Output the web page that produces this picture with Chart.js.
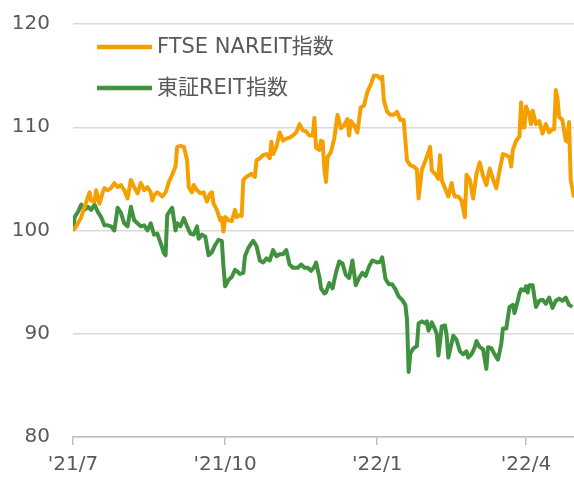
<!DOCTYPE html>
<html><head><meta charset="utf-8">
<script src="https://cdn.jsdelivr.net/npm/chart.js@4/dist/chart.umd.min.js"></script>
<style>html,body{margin:0;padding:0;background:#fff;}#wrap{width:574px;height:477px;}</style>
</head><body><div id="wrap"><canvas id="c" width="574" height="477"></canvas></div>
<script>
// x values are calendar days since 2021-07-01
const tickDays = [0, 92, 184, 274];
const tickLabels = ["'21/7", "'21/10", "'22/1", "'22/4"];
const yTicks = [80, 90, 100, 110, 120];
const seriesNames = ["FTSE NAREIT指数", "東証REIT指数"];

const ftseDays = [0,2,5,7,10,11,13,14,16,18,19,21,23,25,27,29,31,33,35,37,39,41,43,45,47,48,49,51,54,56,58,60,62,63,65,67,68,69,70,72,73,75,77,79,81,83,84,85,87,89,90,91,92,94,96,98,99,101,102,103,105,108,110,111,113,115,117,119,120,121,123,125,127,129,131,133,135,137,139,141,143,145,146,147,149,150,151,152,153,154,156,158,160,162,164,166,167,168,170,172,174,176,178,180,182,184,186,187,188,190,192,194,196,198,200,202,204,206,208,209,211,213,215,216,217,219,221,222,223,225,227,229,230,231,233,235,237,238,240,242,244,246,248,250,252,254,256,258,260,262,264,265,266,268,270,271,272,273,274,276,277,278,280,282,284,286,288,290,291,292,293,294,296,298,299,300,301,303];
const ftseValues = [100.0,100.4,101.3,102.3,103.7,102.9,102.8,103.9,102.6,103.7,104.1,103.9,104.1,104.6,104.2,104.4,103.9,103.1,104.9,104.2,103.6,104.6,103.9,104.2,103.7,102.9,103.4,103.7,103.3,103.7,104.7,105.4,106.2,108.1,108.2,108.1,107.5,106.8,104.2,103.7,104.4,103.9,103.6,103.7,102.8,103.6,103.7,102.6,102.0,101.0,101.2,99.9,101.3,101.0,100.9,102.0,101.3,101.5,101.4,104.9,105.2,105.5,105.2,106.8,107.0,107.3,107.4,107.0,108.6,107.4,108.1,109.5,108.7,108.9,109.0,109.2,109.5,110.3,109.7,109.6,109.2,109.2,110.9,108.0,107.8,108.7,108.6,106.0,104.7,107.1,107.6,108.9,111.2,109.9,110.2,110.8,109.2,110.6,110.2,109.5,111.9,112.1,113.4,114.1,115.0,115.0,114.7,114.9,112.6,111.5,111.2,111.2,111.5,110.7,110.7,106.8,106.3,106.2,105.9,103.1,105.9,106.7,107.6,108.1,105.8,105.5,105.0,107.3,104.9,104.1,103.3,104.6,103.7,103.3,103.3,102.9,101.3,105.4,104.9,103.1,105.5,106.6,105.3,104.4,106.0,105.0,104.1,105.8,107.4,107.3,107.1,106.2,107.8,108.7,109.1,112.4,110.0,110.0,112.0,111.2,110.3,111.6,110.3,110.6,109.4,110.3,109.5,109.8,109.8,113.6,112.8,111.0,110.7,108.7,108.6,110.5,104.9,103.2];

const tseDays = [0,1,3,5,7,9,11,13,15,17,19,21,23,25,27,29,31,33,35,37,39,41,43,45,47,49,51,53,55,56,57,59,60,62,63,65,67,69,71,73,75,76,78,80,82,84,86,88,90,91,92,94,96,98,101,103,104,106,108,109,111,113,115,117,119,121,123,125,127,129,131,133,136,138,140,142,144,146,147,149,150,152,153,155,157,159,161,163,165,167,169,170,171,173,175,177,179,181,184,186,187,189,191,193,195,197,199,201,202,203,204,206,208,209,211,213,214,215,217,219,220,221,222,223,225,226,227,230,232,234,236,238,239,241,243,244,246,248,250,251,253,255,257,259,260,262,264,266,267,269,270,271,273,274,275,276,277,278,279,280,282,284,286,288,290,292,294,296,298,300,302];
const tseValues = [100.0,101.3,101.8,102.5,102.0,102.3,102.0,102.5,101.8,101.3,100.5,100.5,100.4,100.0,102.2,101.7,100.7,100.4,102.3,101.0,100.7,100.4,100.5,100.0,100.7,99.6,99.7,98.8,97.8,97.6,101.5,102.0,102.2,100.0,100.7,100.4,101.2,100.4,99.7,99.6,100.4,99.2,99.6,99.4,97.6,97.9,98.6,99.1,99.0,96.5,94.6,95.2,95.5,96.2,95.8,95.9,97.5,98.3,98.8,99.0,98.5,97.1,96.9,97.3,97.1,98.1,97.5,97.7,97.7,98.1,96.7,96.4,96.4,96.7,96.4,96.4,96.1,96.5,96.9,95.5,94.4,93.9,94.0,94.9,94.4,95.9,97.0,96.8,95.7,95.4,97.1,95.9,94.7,95.4,95.9,95.6,96.5,97.1,96.9,97.0,97.4,95.3,94.8,94.8,94.3,93.6,93.3,92.8,91.4,86.3,88.1,88.6,88.8,91.0,91.2,91.0,91.2,90.3,91.1,90.4,90.0,87.9,89.2,90.7,90.8,89.8,87.7,89.8,89.4,88.3,88.0,88.3,87.7,88.0,88.7,89.3,88.7,88.5,86.6,88.7,88.6,88.0,87.5,89.0,90.5,90.5,92.6,92.8,92.0,93.2,93.9,94.3,94.2,94.6,94.0,94.7,94.7,94.7,93.6,92.6,93.2,93.3,92.9,93.5,92.5,93.2,93.4,93.2,93.5,92.8,92.6];

const colors = ['#F5A000', '#41923F'];
const FONT = '"DejaVu Sans", Verdana, "Noto Sans CJK JP", sans-serif';

const insideLegend = {
  id: 'insideLegend',
  afterDatasetsDraw(chart) {
    const ctx = chart.ctx, a = chart.chartArea;
    chart.data.datasets.forEach((ds, i) => {
      const y = a.top + 23 + i * 41;
      const x0 = a.left + 24;
      ctx.save();
      ctx.strokeStyle = ds.borderColor;
      ctx.lineWidth = 4.5;
      ctx.beginPath(); ctx.moveTo(x0, y); ctx.lineTo(x0 + 55, y); ctx.stroke();
      ctx.fillStyle = '#595959';
      ctx.font = '21px ' + FONT;
      ctx.textBaseline = 'middle';
      ctx.fillText(ds.label, x0 + 60, y + 1);
      ctx.restore();
    });
  }
};

new Chart(document.getElementById('c'), {
  type: 'line',
  data: {
    datasets: [
      { label: seriesNames[0], data: ftseDays.map((d, i) => ({x: d, y: ftseValues[i]})),
        borderColor: colors[0], backgroundColor: colors[0], borderWidth: 4, pointRadius: 0, tension: 0, borderJoinStyle: 'round' },
      { label: seriesNames[1], data: tseDays.map((d, i) => ({x: d, y: tseValues[i]})),
        borderColor: colors[1], backgroundColor: colors[1], borderWidth: 4, pointRadius: 0, tension: 0, borderJoinStyle: 'round' }
    ]
  },
  options: {
    responsive: false, animation: false, devicePixelRatio: 1,
    layout: { padding: { left: 12, right: 0, top: 24, bottom: 0 } },
    plugins: { legend: { display: false }, tooltip: { enabled: false } },
    scales: {
      x: {
        type: 'linear', min: 0, max: 303,
        afterBuildTicks: (s) => { s.ticks = tickDays.map(v => ({ value: v })); },
        afterFit: (s) => { s.height = 40; },
        ticks: { autoSkip: false, maxRotation: 0, padding: 8, color: '#595959', font: { family: FONT, size: 20 },
          callback: (v) => { const k = tickDays.indexOf(v); return k >= 0 ? tickLabels[k] : ''; } },
        grid: { drawOnChartArea: false, drawTicks: true, tickLength: 8, color: '#bfbfbf', lineWidth: 1.5 },
        border: { display: true, color: '#bfbfbf', width: 1.5 }
      },
      y: {
        min: 80, max: 120,
        afterBuildTicks: (s) => { s.ticks = yTicks.map(v => ({ value: v })); },
        afterFit: (s) => { s.width = 61; s.paddingTop = 0; s.paddingBottom = 0; },
        ticks: { padding: 23, color: '#595959', font: { family: FONT, size: 20 } },
        grid: { drawTicks: false, color: '#d9d9d9', lineWidth: 1.5 },
        border: { display: false }
      }
    }
  },
  plugins: [insideLegend]
});
</script></body></html>
